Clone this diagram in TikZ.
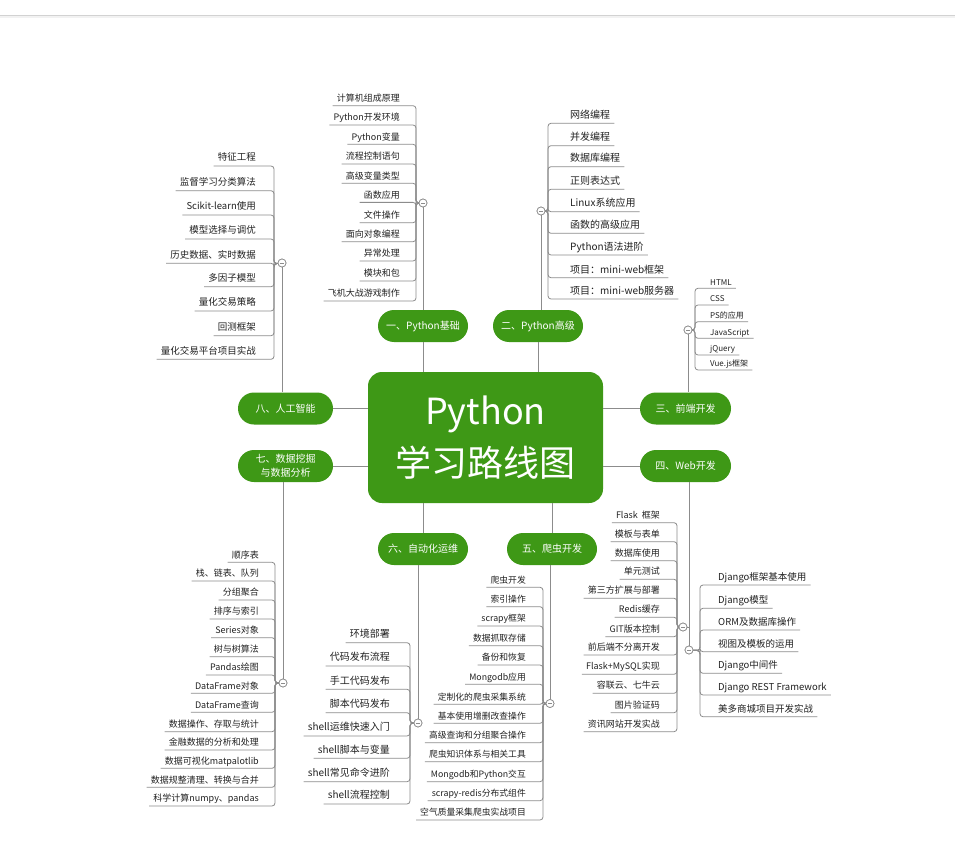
\documentclass[tikz,border=0pt]{standalone}
\usepackage{fontspec}
\setmainfont{Noto Sans CJK SC}
\definecolor{mgreen}{RGB}{62,152,22}
\definecolor{lgray}{RGB}{140,140,140}
\definecolor{txt}{RGB}{34,34,34}
\newcommand\myfs[1]{\fontsize{#1}{#1}\selectfont}
\tikzset{
  leaf/.style={inner xsep=4pt, text depth=0pt, text=txt, font=\myfs{#1}},
  br/.style={draw=lgray, line width=0.8pt, rounded corners=3pt},
  cl/.style={draw=lgray, line width=0.8pt},
  tg/.style={circle, draw=lgray, fill=white, line width=0.7pt, minimum size=8pt, inner sep=0pt},
  pill/.style={rounded corners=16pt, fill=mgreen, text=white, minimum height=32pt, font=\myfs{10}, align=center, inner sep=0pt},
}
\newcommand\leftgroup[5]{%
  \foreach \lbl/\yy [count=\i] in {#5} {
    \node[leaf=#3, inner ysep=#4, anchor=south east] (#1n\i) at (#2,\yy) {\lbl};
    \draw[br] (#1n\i.south west) -- (#1n\i.south east -| #1b) -- (#1b) -- (#1c);
  }}
\newcommand\rightgroup[5]{%
  \foreach \lbl/\yy [count=\i] in {#5} {
    \node[leaf=#3, inner ysep=#4, anchor=south west] (#1n\i) at (#2,\yy) {\lbl};
    \draw[br] (#1n\i.south east) -- (#1n\i.south west -| #1b) -- (#1b) -- (#1c);
  }}
\newcommand\tgminus[1]{\draw[lgray, line width=0.6pt] ([xshift=-2pt]#1.center) -- ([xshift=2pt]#1.center);}
\begin{document}
\begin{tikzpicture}[x=1pt, y=-1pt]
\useasboundingbox (0,0) rectangle (955,842);
\fill[white] (0,0) rectangle (955,842);
% top rule
\coordinate (tl) at (0,15.5);
\coordinate (tr) at (955,15.5);
\draw[gray!35, line width=1.2pt] (tl) -- (tr);
\draw[gray!10, line width=2pt] ([yshift=-1.8pt]tl) -- ([yshift=-1.8pt]tr);

% central node
\node[rounded corners=14pt, fill=mgreen, text=white, minimum width=235pt, minimum height=131pt, align=center,
      font=\fontsize{36}{52}\selectfont] (c) at (485.5,437.5) {Python\\学习路线图};

% branch pills
\node[pill, minimum width=90pt] (p1) at (423,326) {一、Python基础};
\node[pill, minimum width=90pt] (p2) at (538,326) {二、Python高级};
\node[pill, minimum width=91pt] (p3) at (685.5,408.5) {三、前端开发};
\node[pill, minimum width=91pt] (p4) at (685.5,466) {四、Web开发};
\node[pill, minimum width=90pt] (p5) at (552,549) {五、爬虫开发};
\node[pill, minimum width=90pt] (p6) at (423,549) {六、自动化运维};
\node[pill, minimum width=95pt, font=\fontsize{10}{14}\selectfont] (p7) at (285.5,466) {七、数据挖掘\\与数据分析};
\node[pill, minimum width=95pt] (p8) at (285.5,408.5) {八、人工智能};

% centre to pills
\draw[cl] (p1.south) -- (p1.south |- c.north);
\draw[cl] (p2.south) -- (p2.south |- c.north);
\draw[cl] (p3.west) -- (p3.west -| c.east);
\draw[cl] (p4.west) -- (p4.west -| c.east);
\draw[cl] (p5.north) -- (p5.north |- c.south);
\draw[cl] (p6.north) -- (p6.north |- c.south);
\draw[cl] (p7.east) -- (p7.east -| c.west);
\draw[cl] (p8.east) -- (p8.east -| c.west);

% toggles and bracket joints
\node[tg] (g1c) at (423,203) {};  \coordinate (g1b) at (416,203);
\node[tg] (g2c) at (541,211) {};  \coordinate (g2b) at (548,211);
\node[tg] (g3c) at (688,330) {};  \coordinate (g3b) at (695,330);
\node[tg] (g4fc) at (683,627) {}; \coordinate (g4fb) at (677,627);
\node[tg] (g4dc) at (689,650) {}; \coordinate (g4db) at (700,650.5);
\node[tg] (g5c) at (550,703.5) {}; \coordinate (g5b) at (543,703.5);
\node[tg] (g6c) at (418,723) {};  \coordinate (g6b) at (410,723);
\node[tg] (g7c) at (283,683) {};  \coordinate (g7b) at (275,683);
\node[tg] (g8c) at (282,263) {};  \coordinate (g8b) at (274,263.8);

% pills to toggles
\draw[cl] (g1c) -- (p1.north -| g1c);
\draw[cl] (g2c) -- (p2.north -| g2c);
\draw[cl] (g3c) -- (p3.north -| g3c);
\draw[cl] (g4dc) -- (p4.south -| g4dc);
\draw[cl] (g4fc) -- (g4fc -| g4dc);
\draw[cl] (g5c) -- (p5.south -| g5c);
\draw[cl] (g6c) -- (p6.south -| g6c);
\draw[cl] (g7c) -- (p7.south -| g7c);
\draw[cl] (g8c) -- (p8.north -| g8c);

% groups
\leftgroup{g1}{404}{9}{4pt}{计算机组成原理/105.7, Python开发环境/125, Python变量/144.3, 流程控制语句/164, 高级变量类型/183.3, 函数应用/202.4, 文件操作/222.7, 面向对象编程/241.7, 异常处理/261, 模块和包/281, 飞机大战游戏制作/301}
\rightgroup{g2}{566}{10}{4.5pt}{网络编程/123.3, 并发编程/145.7, 数据库编程/166.7, 正则表达式/189.3, Linux系统应用/211.7, 函数的高级应用/233.3, Python语法进阶/255, 项目：mini-web框架/277.7, 项目：mini-web服务器/299}
\rightgroup{g3}{706}{8}{3pt}{HTML/288.3, CSS/305, PS的应用/321.7, JavaScript/338.3, jQuery/355, Vue.js框架/370}
\leftgroup{g8}{260}{9.5}{5pt}{特征工程/166, 监督学习分类算法/190.7, Scikit-learn使用/215, 模型选择与调优/239, 历史数据、实时数据/263.3, 多因子模型/286.7, 量化交易策略/311, 回测框架/335.7, 量化交易平台项目实战/359.3}
\leftgroup{g4f}{664}{9}{4.3pt}{Flask~~框架/522.7, 模板与表单/541.7, 数据库使用/560.7, 单元测试/579.3, 第三方扩展与部署/598.3, Redis缓存/617.3, GIT版本控制/636.7, 前后端不分离开发/655, Flask+MySQL实现/674.3, 容联云、七牛云/693.3, 图片验证码/712.7, 资讯网站开发实战/731.7}
\rightgroup{g4d}{714}{9.5}{4.5pt}{Django框架基本使用/585, Django模型/608.3, ORM及数据库操作/630, 视图及模板的运用/651.7, Django中间件/673.3, Django REST Framework/695, 美多商城项目开发实战/716.7}
\leftgroup{g5}{530}{8.8}{4pt}{爬虫开发/587.3, 索引操作/606.7, scrapy框架/626, 数据抓取存储/645.7, 备份和恢复/665, Mongodb应用/684.3, 定制化的爬虫采集系统/704.3, 基本使用增删改查操作/723.3, 高级查询和分组聚合操作/742.7, 爬虫知识体系与相关工具/761.7, Mongodb和Python交互/781.7, scrapy-redis分布式组件/800.7, 空气质量采集爬虫实战项目/820}
\leftgroup{g6}{394}{10}{4.9pt}{环境部署/642.7, 代码发布流程/666, 手工代码发布/689.3, 脚本代码发布/712.7, shell运维快速入门/736, shell脚本与变量/758.3, shell常见命令进阶/781.7, shell流程控制/804}
\leftgroup{g7}{263}{9}{3.9pt}{顺序表/562.3, 栈、链表、队列/581, 分组聚合/600, 排序与索引/619, Series对象/637.7, 树与树算法/656.7, Pandas绘图/675, DataFrame对象/693.3, DataFrame查询/712.3, 数据操作、存取与统计/731.7, 金融数据的分析和处理/750, 数据可视化matpalotlib/768.3, 数据规整清理、转换与合并/787.3, 科学计算numpy、pandas/806}

% toggle minus signs (drawn last, on top)
\node[tg] at (g1c) {}; \tgminus{g1c}
\node[tg] at (g2c) {}; \tgminus{g2c}
\node[tg] at (g3c) {}; \tgminus{g3c}
\node[tg] at (g4fc) {}; \tgminus{g4fc}
\node[tg] at (g4dc) {}; \tgminus{g4dc}
\node[tg] at (g5c) {}; \tgminus{g5c}
\node[tg] at (g6c) {}; \tgminus{g6c}
\node[tg] at (g7c) {}; \tgminus{g7c}
\node[tg] at (g8c) {}; \tgminus{g8c}
\end{tikzpicture}
\end{document}
